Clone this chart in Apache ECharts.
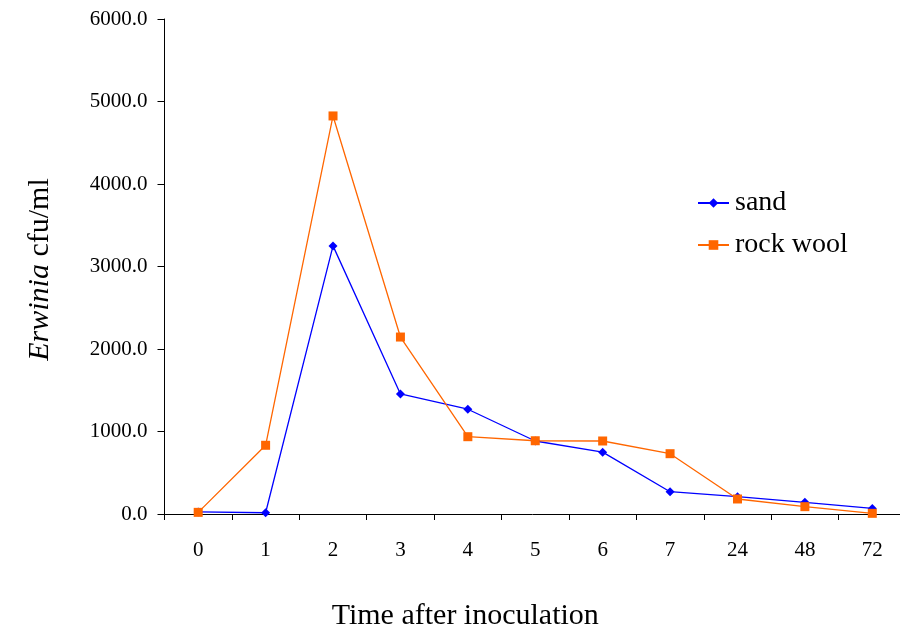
<!DOCTYPE html>
<html><head><meta charset="utf-8">
<script src="https://cdn.jsdelivr.net/npm/echarts@6/dist/echarts.min.js"></script>
<style>html,body{margin:0;padding:0;background:#fff}#c{width:900px;height:632px}</style>
</head><body><div id="c"></div>
<script>
var categories = ['0','1','2','3','4','5','6','7','24','48','72'];
var sand = [25, 15, 3250, 1455, 1270, 885, 750, 270, 210, 142, 68];
var rockWool = [20, 833, 4825, 2145, 937, 888, 885, 731, 182, 89, 8];
var yTicks = [0, 1000, 2000, 3000, 4000, 5000, 6000];

var font = '"Liberation Serif", "Times New Roman", serif';
var chart = echarts.init(document.getElementById('c'), null, {renderer: 'canvas'});
chart.setOption({
  animation: false,
  backgroundColor: '#fff',
  grid: {left: 164.5, top: 19, right: -6, bottom: 118, containLabel: false, outerBoundsMode: 'none'},
  legend: {
    data: ['sand', 'rock wool'],
    orient: 'vertical',
    left: 697, top: 189, padding: 0,
    itemWidth: 31, itemHeight: 12, itemGap: 14,
    textStyle: {fontFamily: font, fontSize: 28, color: '#000', padding: [0,0,0,1]}
  },
  xAxis: {
    type: 'category',
    data: categories,
    boundaryGap: true,
    name: 'Time after inoculation',
    nameLocation: 'middle',
    nameGap: 87,
    nameTextStyle: {fontFamily: font, fontSize: 30, color: '#000', padding: [0, 140, 0, 0]},
    axisLine: {lineStyle: {color: '#000', width: 1}},
    axisTick: {show: true, length: 6, alignWithLabel: false, lineStyle: {color: '#000'}},
    axisLabel: {fontFamily: font, fontSize: 21, color: '#000', margin: 26},
    splitLine: {show: false}
  },
  yAxis: {
    type: 'value',
    min: yTicks[0], max: yTicks[yTicks.length-1], interval: 1000,
    name: '{i|Erwinia} cfu/ml',
    nameLocation: 'middle',
    nameRotate: 90,
    nameGap: 109,
    nameTextStyle: {fontFamily: font, fontSize: 30, color: '#000', padding: [0, 6, 0, 0],
      rich: {i: {fontFamily: font, fontSize: 30, fontStyle: 'italic', color: '#000'}}},
    axisLine: {show: true, lineStyle: {color: '#000', width: 1}},
    axisTick: {show: true, length: 7, lineStyle: {color: '#000'}},
    axisLabel: {fontFamily: font, fontSize: 21, color: '#000', margin: 17,
      formatter: function(v){ return v.toFixed(1); }},
    splitLine: {show: false}
  },
  series: [
    {name: 'sand', type: 'line', data: sand, symbol: 'diamond', symbolSize: 9,
     lineStyle: {color: '#0000ff', width: 1.3}, itemStyle: {color: '#0000ff'}},
    {name: 'rock wool', type: 'line', data: rockWool, symbol: 'rect', symbolSize: 9,
     lineStyle: {color: '#ff6600', width: 1.3}, itemStyle: {color: '#ff6600'}}
  ]
});
</script></body></html>
